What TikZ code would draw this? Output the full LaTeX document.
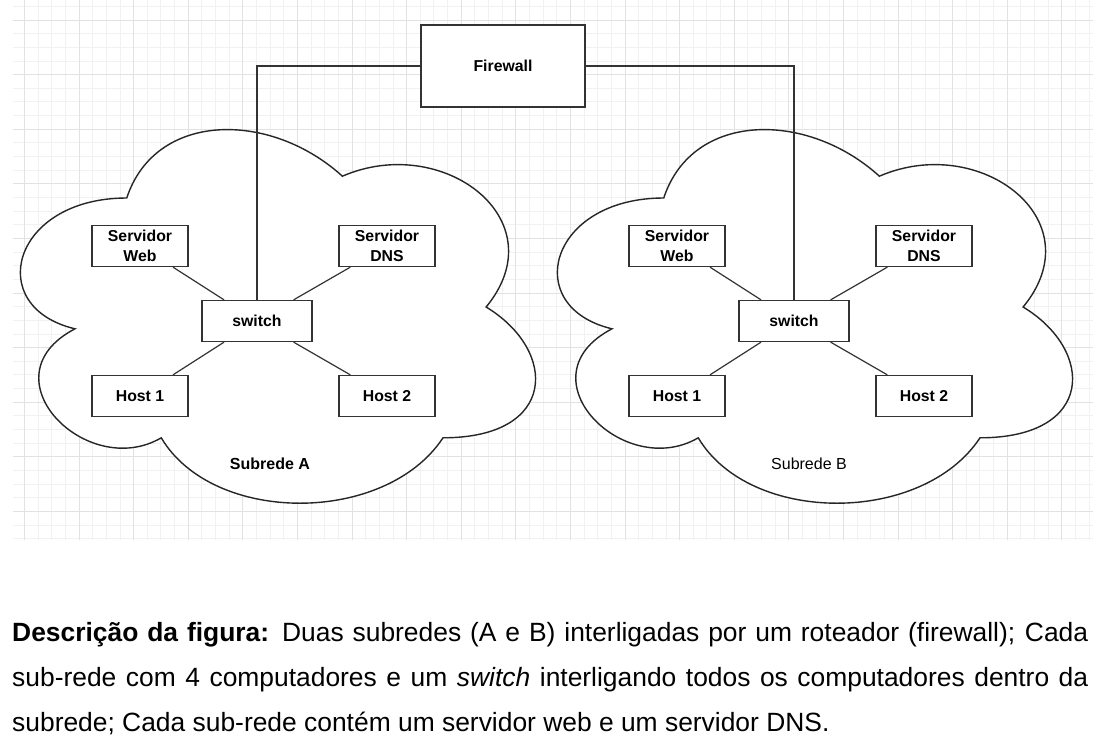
\documentclass[tikz,border=0pt]{standalone}
\usepackage{fontspec}
\setmainfont{Liberation Sans}
\usepackage{tikz}
\usepackage{xcolor}

\definecolor{linha}{HTML}{333333}
\definecolor{gradefina}{HTML}{F1F1F1}
\definecolor{gradeforte}{HTML}{E2E2E2}

\tikzset{
  caixa/.style={draw=linha, line width=1.3pt, fill=white, minimum width=96pt,
    minimum height=41pt, inner sep=0pt, align=center,
    font=\fontsize{15.8}{20}\selectfont\bfseries},
  ligacao/.style={draw=linha, line width=1.2pt},
  nuvem/.style={draw=black!85, line width=1.4pt, fill=white},
  rotulo/.style={inner sep=0pt, font=\fontsize{16}{19}\selectfont},
  legenda/.style={inner sep=0pt, anchor=base west, font=\fontsize{26.4}{30}\selectfont}
}

\begin{document}
\begin{tikzpicture}[x=1pt, y=-1pt]
\useasboundingbox (0,0) rectangle (1106,755);
% grade de fundo
\begin{scope}
\clip (13,0) rectangle (1093,540);
\foreach \i in {0,...,80}
    \draw[gradefina, line width=0.9pt] (10.75+13.65*\i,0) -- ++(0,540);
\foreach \j in {0,...,39}
    \draw[gradefina, line width=0.9pt] (13,6.35+13.65*\j) -- ++(1080,0);
\foreach \i in {0,...,19}
    \draw[gradeforte, line width=1pt] (24.4+54.6*\i,0) -- ++(0,540);
\foreach \j in {0,...,9}
    \draw[gradeforte, line width=1pt] (13,20+54.6*\j) -- ++(1080,0);
\end{scope}
% nuvens das subredes
\foreach \dx in {0,537} {
\begin{scope}[shift={(-17+\dx,89)}, x=575pt, y=-436pt]
\draw[nuvem] (0.25,0.25) .. controls (0.05,0.25) and (0,0.5) .. (0.16,0.55)
    .. controls (0,0.66) and (0.18,0.9) .. (0.31,0.8)
    .. controls (0.4,1) and (0.7,1) .. (0.8,0.8)
    .. controls (1,0.8) and (1,0.6) .. (0.875,0.5)
    .. controls (1,0.3) and (0.8,0.1) .. (0.625,0.2)
    .. controls (0.5,0.05) and (0.3,0.05) .. (0.25,0.25) -- cycle;
\end{scope}
}
% switch, servidores e hosts
\foreach \dx/\s in {0/A, 537/B} {
    \node[caixa, minimum width=110pt] (sw\s) at (257+\dx,321) {switch};
    \node[caixa] (web\s) at (140+\dx,246) {Servidor\\Web};
    \node[caixa] (dns\s) at (387+\dx,246) {Servidor\\DNS};
    \node[caixa] (hostum\s) at (140+\dx,396) {Host 1};
    \node[caixa] (hostdois\s) at (387+\dx,396) {Host 2};
    \draw[ligacao] (web\s) -- (sw\s);
    \draw[ligacao] (dns\s) -- (sw\s);
    \draw[ligacao] (hostum\s) -- (sw\s);
    \draw[ligacao] (hostdois\s) -- (sw\s);
}
\node[rotulo, font=\fontsize{16}{19}\selectfont\bfseries] (subA) at (270,464) {Subrede A};
\node[rotulo] (subB) at (809,464) {Subrede B};
% firewall
\node[caixa, minimum width=164pt, minimum height=82pt] (fw) at (503,66) {Firewall};
\draw[ligacao] (fw.west) -| (swA.north);
\draw[ligacao] (fw.east) -| (swB.north);
% legenda
\node[legenda] (leg1) at (12,641) {\makebox[1076pt][s]{\textbf{Descrição da figura:} Duas subredes (A e B) interligadas por um roteador (firewall); Cada}};
\node[legenda] (leg2) at (12,686) {\makebox[1076pt][s]{sub-rede com 4 computadores e um \textit{switch} interligando todos os computadores dentro da}};
\node[legenda] (leg3) at (12,731) {subrede; Cada sub-rede contém um servidor web e um servidor DNS.};
\end{tikzpicture}
\end{document}
